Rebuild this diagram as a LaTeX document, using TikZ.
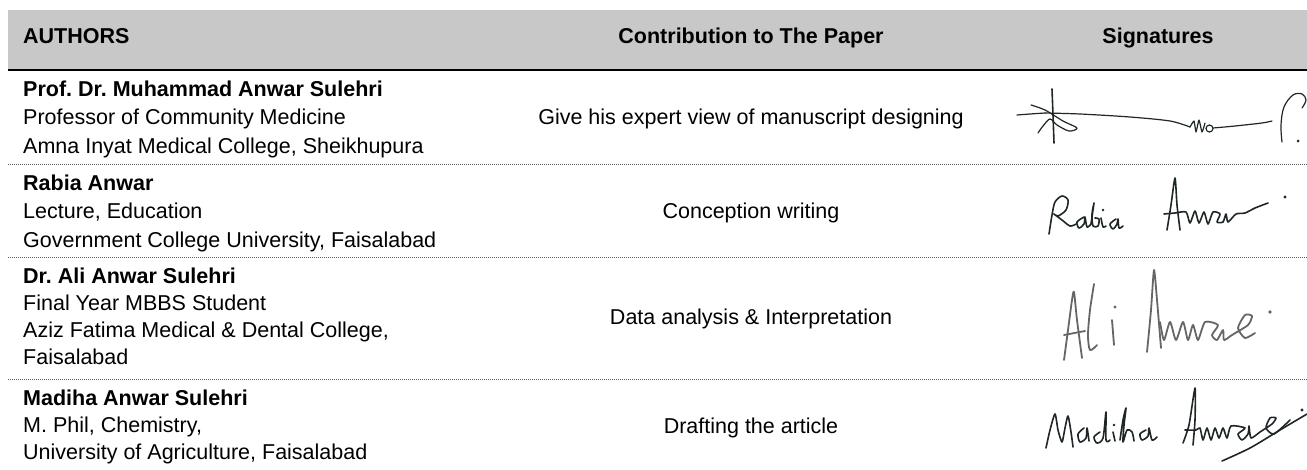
\documentclass[tikz,border=0pt]{standalone}
\usepackage{fontspec}
\setmainfont{Liberation Sans}
\usepackage{tikz}
\usetikzlibrary{positioning}
\frenchspacing

\definecolor{headgray}{RGB}{200,200,200}
\definecolor{ink}{RGB}{30,38,40}

\begin{document}
\begin{tikzpicture}[x=1pt, y=-1pt,
    cell/.style={inner sep=0pt, font=\fontsize{21.5}{28.5}\selectfont},
    lcell/.style={cell, anchor=base west},
    ccell/.style={cell, anchor=base},
    rowrule/.style={black!65, line width=1pt, dash pattern=on 1pt off 1pt},
    sig/.style={ink, line width=1.6pt, line cap=round, line join=round},
    sigthin/.style={sig, line width=1.2pt},
    siggray/.style={sig, draw=black!60, line width=1.8pt}]
    \useasboundingbox (0,0) rectangle (1307,469);

    % Header
    \fill[headgray] (8,10) rectangle (1307,69);
    \draw[black, line width=2.5pt] (8,70) -- (1307,70);
    \node[lcell, font=\fontsize{21.5}{28.5}\selectfont\bfseries] (hauthors) at (23,43) {AUTHORS};
    \node[ccell, font=\fontsize{21.5}{28.5}\selectfont\bfseries] (hcontrib) at (751,43) {Contribution to The Paper};
    \node[ccell, font=\fontsize{21.5}{28.5}\selectfont\bfseries] (hsigns) at (1158,43) {Signatures};

    % Row 1
    \node[lcell] (aone) at (23,96) {\bfseries Prof. Dr. Muhammad Anwar Sulehri};
    \node[lcell] (aoneb) at (23,124.5) {Professor of Community Medicine};
    \node[lcell] (aonec) at (23,153) {Amna Inyat Medical College, Sheikhupura};
    \node[ccell] (cone) at (751,124.5) {Give his expert view of manuscript designing};
    \draw[rowrule] (8,164) -- (1307,164);

    % Row 2
    \node[lcell] (atwo) at (23,190) {\bfseries Rabia Anwar};
    \node[lcell] (atwob) at (23,218.5) {Lecture, Education};
    \node[lcell] (atwoc) at (23,247) {Government College University, Faisalabad};
    \node[ccell] (ctwo) at (751,218.5) {Conception writing};
    \draw[rowrule] (8,257) -- (1307,257);

    % Row 3
    \node[lcell] (athree) at (23,283) {\bfseries Dr. Ali Anwar Sulehri};
    \node[lcell] (athreeb) at (23,310) {Final Year MBBS Student};
    \node[lcell] (athreec) at (23,337) {Aziz Fatima Medical \& Dental College,};
    \node[lcell] (athreed) at (23,364) {Faisalabad};
    \node[ccell] (cthree) at (751,324.5) {Data analysis \& Interpretation};
    \draw[rowrule] (8,379) -- (1307,379);

    % Row 4
    \node[lcell] (afour) at (23,405) {\bfseries Madiha Anwar Sulehri};
    \node[lcell] (afourb) at (23,432) {M. Phil, Chemistry,};
    \node[lcell] (afourc) at (23,459) {University of Agriculture, Faisalabad};
    \node[ccell] (cfour) at (751,433) {Drafting the article};

    % Signature 1
    \draw[sigthin] plot[smooth, tension=0.5] coordinates {(1017,115) (1030,114) (1045,113)};
    \draw[sigthin] plot[smooth, tension=0.5] coordinates {(1031,105) (1045,110) (1063,121) (1077,128) (1069,131) (1057,125) (1050,119) (1043,126) (1038,133)};
    \draw[sig] plot[smooth, tension=0.5] coordinates {(1052,89) (1053,115) (1054,143)};
    \draw[sigthin] plot[smooth, tension=0.5] coordinates {(1045,113) (1080,114) (1130,117) (1170,121) (1190,127)};
    \draw[sigthin] plot[smooth, tension=0.3] coordinates {(1190,127) (1194,121) (1196,132) (1199,120) (1202,132) (1205,123)};
    \draw[sigthin] (1209.5,128.5) circle (3.5);
    \draw[sigthin] plot[smooth, tension=0.5] coordinates {(1213,128) (1235,126) (1262,123) (1272,121)};
    \draw[sigthin] plot[smooth, tension=0.6] coordinates {(1282,142) (1281,125) (1284,107) (1293,95) (1302,94) (1306,100) (1302,108)};
    \fill[ink] (1298,141) circle (1.5);

    % Signature 2
    \draw[sig] plot[smooth, tension=0.5] coordinates {(1049,234) (1052,215) (1055,202) (1062,196) (1068,200) (1066,210) (1058,216) (1054,214) (1062,220) (1070,226) (1076,224)};
    \draw[sig] plot[smooth, tension=0.5] coordinates {(1084,217) (1077,222) (1079,228) (1084,224) (1085,217) (1087,227) (1091,224)};
    \draw[sig] plot[smooth, tension=0.5] coordinates {(1091,224) (1093,210) (1094,203) (1092,214) (1093,226) (1098,226) (1099,219) (1095,218)};
    \draw[sig] plot[smooth, tension=0.5] coordinates {(1101,218) (1103,227) (1106,226)};
    \fill[ink] (1103,210) circle (1.3);
    \draw[sig] plot[smooth, tension=0.5] coordinates {(1116,219) (1110,224) (1113,229) (1117,224) (1118,219) (1119,228) (1123,226)};
    \draw[sig] plot[smooth, tension=0.4] coordinates {(1167,230) (1171,205) (1175,178) (1177,205) (1180,230)};
    \draw[sig] plot[smooth, tension=0.4] coordinates {(1164,214) (1175,213) (1186,212) (1190,223) (1195,211) (1199,223) (1204,212) (1208,224) (1213,212) (1220,214) (1217,222) (1223,222) (1226,214) (1228,222) (1236,214) (1245,213) (1255,208) (1268,203)};
    \fill[ink] (1285,197) circle (1.6);

    % Signature 3
    \draw[siggray] plot[smooth, tension=0.4] coordinates {(1064,360) (1068,330) (1072,300) (1074,292) (1077,320) (1082,358)};
    \draw[siggray] (1064,335) -- (1085,331);
    \draw[siggray] plot[smooth, tension=0.5] coordinates {(1094,284) (1090,310) (1088,335) (1090,350) (1097,345)};
    \draw[siggray] (1112,320) -- (1114,345);
    \fill[black!60] (1115,307) circle (1.6);
    \draw[siggray] plot[smooth, tension=0.4] coordinates {(1147,352) (1151,310) (1154,270) (1157,300) (1161,348)};
    \draw[siggray] plot[smooth, tension=0.4] coordinates {(1160,322) (1164,340) (1170,322) (1176,340) (1183,322) (1188,340) (1193,325) (1198,340) (1205,322) (1218,325) (1212,335) (1217,340) (1223,330) (1224,340) (1232,335) (1248,325) (1252,316) (1245,315) (1238,328) (1245,338) (1255,333)};
    \fill[black!60] (1270,312) circle (1.8);

    % Signature 4
    \draw[sig] plot[smooth, tension=0.4] coordinates {(1046,448) (1050,430) (1055,414) (1058,430) (1062,442) (1065,428) (1068,416) (1071,432) (1073,447)};
    \draw[sig] plot[smooth, tension=0.5] coordinates {(1084,428) (1078,434) (1080,442) (1086,438) (1087,428) (1089,441)};
    \draw[sig] plot[smooth, tension=0.5] coordinates {(1100,432) (1094,437) (1097,443) (1103,438) (1106,412) (1106,440) (1110,440)};
    \draw[sig] (1113,432) -- (1115,441);
    \fill[ink] (1114,425) circle (1.3);
    \draw[sig] plot[smooth, tension=0.5] coordinates {(1120,440) (1123,420) (1126,408) (1124,425) (1123,442) (1127,430) (1132,432) (1134,441)};
    \draw[sig] plot[smooth, tension=0.5] coordinates {(1146,430) (1140,434) (1142,440) (1148,436) (1149,428) (1152,440) (1157,437)};
    \draw[sig] plot[smooth, tension=0.4] coordinates {(1183,443) (1189,425) (1195,388) (1195,420) (1193,445)};
    \draw[sig] plot[smooth, tension=0.4] coordinates {(1185,430) (1196,430) (1200,428) (1203,440) (1207,428) (1211,440) (1215,428) (1219,438) (1223,428) (1227,438) (1231,426) (1245,428) (1238,434) (1242,440) (1248,434) (1249,426) (1251,438) (1260,432) (1272,424) (1276,418) (1270,418) (1266,428) (1274,434) (1290,420)};
    \fill[ink] (1302,410) circle (1.6);
    \draw[sig] plot[smooth, tension=0.5] coordinates {(1222,461) (1250,448) (1280,430) (1307,414)};
\end{tikzpicture}
\end{document}
